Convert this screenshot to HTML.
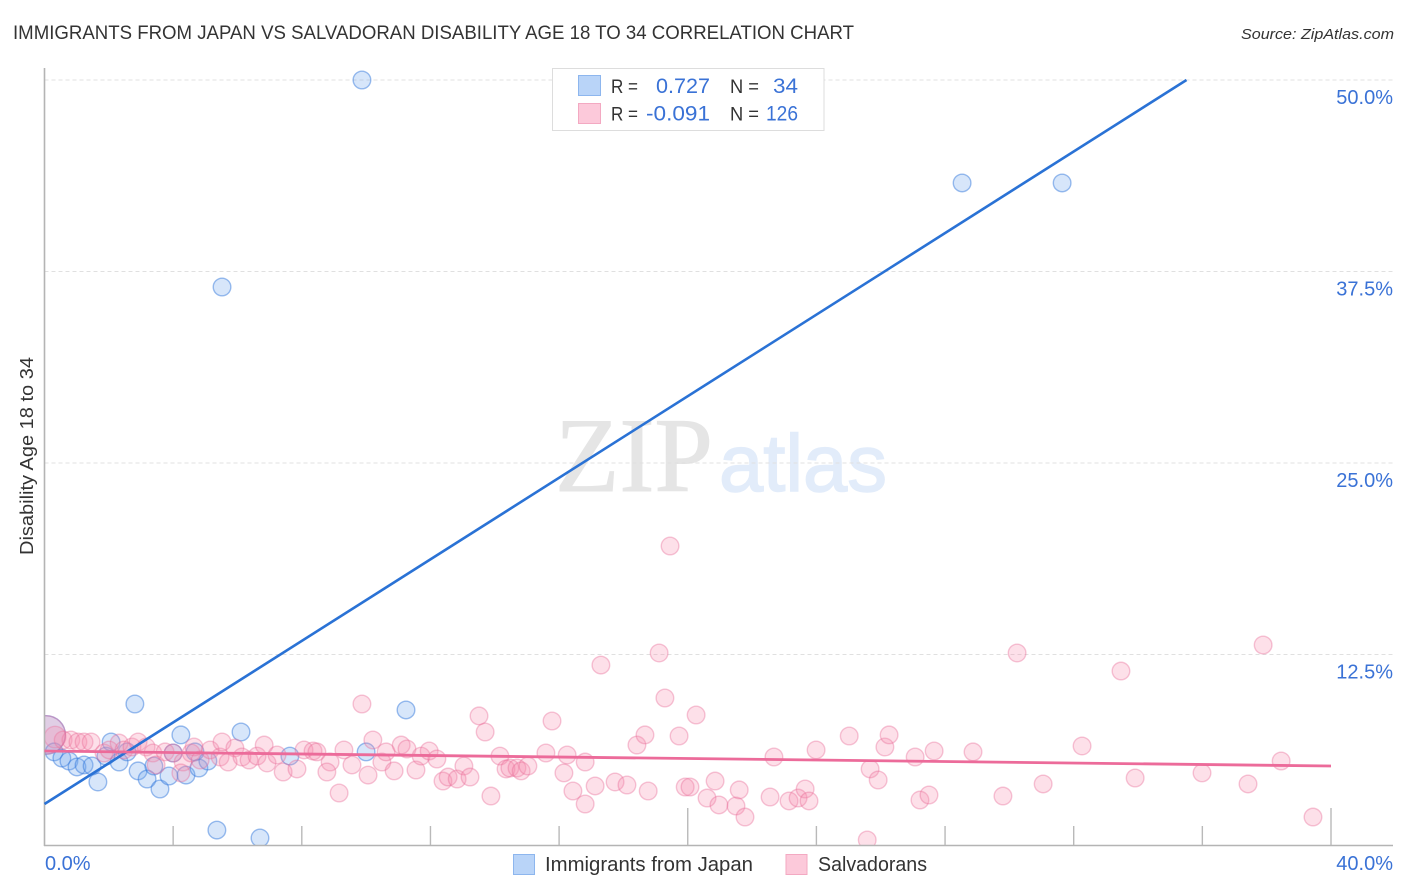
<!DOCTYPE html>
<html lang="en">
<head>
<meta charset="utf-8">
<title>Immigrants from Japan vs Salvadoran Disability Age 18 to 34 Correlation Chart</title>
<style>
  html, body { margin: 0; padding: 0; background: #fff; }
  svg { display: block; font-family: "Liberation Sans", sans-serif; }
</style>
</head>
<body>
<svg id="chart" xmlns="http://www.w3.org/2000/svg" width="1406" height="892" viewBox="0 0 1406 892">
  <defs>
    <clipPath id="plot-clip"><rect x="45" y="60" width="1349" height="785"></rect></clipPath>
  </defs>
  <rect x="0" y="0" width="1406" height="892" fill="#ffffff"></rect>

  <text x="13" y="39" font-size="19" fill="#333333" textLength="841" lengthAdjust="spacingAndGlyphs">IMMIGRANTS FROM JAPAN VS SALVADORAN DISABILITY AGE 18 TO 34 CORRELATION CHART</text>
  <text x="1241" y="39" font-size="15" font-style="italic" fill="#333333" textLength="153" lengthAdjust="spacingAndGlyphs">Source: ZipAtlas.com</text>

  <g>
    <text x="555" y="491" font-family="'Liberation Serif', serif" font-size="106" fill="#e5e5e5" stroke="#e5e5e5" stroke-width="1" textLength="158" lengthAdjust="spacingAndGlyphs">ZIP</text>
    <text x="719" y="491" font-size="81" fill="#e2ecfa" stroke="#e2ecfa" stroke-width="1.5" textLength="168" lengthAdjust="spacingAndGlyphs">atlas</text>
  </g>

  <g id="grid"></g>
  <g id="points" clip-path="url(#plot-clip)"></g>
  <rect x="0" y="690" width="44" height="80" fill="#ffffff"></rect>
  <g id="axes"></g>
  <g id="trends"></g>
  <g id="tick-labels"></g>

  <text x="33" y="456" font-size="18" fill="#333333" text-anchor="middle" textLength="198" lengthAdjust="spacingAndGlyphs" transform="rotate(-90 33 456)">Disability Age 18 to 34</text>

  <g>
    <rect x="552.5" y="68.5" width="271.5" height="62" fill="#ffffff" stroke="#dddddd" stroke-width="1"></rect>
    <rect x="578.5" y="75.5" width="22" height="20" fill="#b9d4f8" stroke="#8db6ee" stroke-width="1"></rect>
    <rect x="578.5" y="103.5" width="22" height="20" fill="#fcc9da" stroke="#f3a9c2" stroke-width="1"></rect>
    <text x="611" y="93" font-size="19.5" fill="#333333" textLength="27" lengthAdjust="spacingAndGlyphs">R =</text>
    <text x="656" y="93" font-size="21.5" fill="#3a72d6" textLength="54" lengthAdjust="spacingAndGlyphs">0.727</text>
    <text x="730" y="93" font-size="19.5" fill="#333333" textLength="29" lengthAdjust="spacingAndGlyphs">N =</text>
    <text x="773" y="93" font-size="21.5" fill="#3a72d6" textLength="25" lengthAdjust="spacingAndGlyphs">34</text>
    <text x="611" y="120.5" font-size="19.5" fill="#333333" textLength="27" lengthAdjust="spacingAndGlyphs">R =</text>
    <text x="646" y="120.5" font-size="21.5" fill="#3a72d6" textLength="64" lengthAdjust="spacingAndGlyphs">-0.091</text>
    <text x="730" y="120.5" font-size="19.5" fill="#333333" textLength="29" lengthAdjust="spacingAndGlyphs">N =</text>
    <text x="766" y="120.5" font-size="21.5" fill="#3a72d6" textLength="32" lengthAdjust="spacingAndGlyphs">126</text>
  </g>

  <g>
    <g>
      <rect x="513.5" y="854.5" width="21" height="20" fill="#b9d4f8" stroke="#8db6ee" stroke-width="1"></rect>
      <text x="545" y="871" font-size="20" fill="#333333" textLength="208" lengthAdjust="spacingAndGlyphs">Immigrants from Japan</text>
    </g>
    <g>
      <rect x="786" y="854.5" width="21" height="20" fill="#fcc9da" stroke="#f3a9c2" stroke-width="1"></rect>
      <text x="818" y="871" font-size="20" fill="#333333" textLength="109" lengthAdjust="spacingAndGlyphs">Salvadorans</text>
    </g>
  </g>
</svg>

<script>
// ---- Chart data (percent values) ----
const japanX = [9.87,28.53,31.64,5.52,2.81,11.24,6.11,4.24,0.05,0.30,0.54,0.76,1.01,1.23,1.48,1.66,1.91,2.07,2.32,2.57,2.91,3.19,3.40,3.59,3.87,4.00,4.40,4.68,4.80,5.08,5.36,6.70,7.63,10.00];
const japanY = [50.00,43.28,43.28,36.49,9.27,8.88,7.44,7.25,7.25,6.14,5.74,5.55,5.16,5.29,5.22,4.18,5.87,6.79,5.48,6.14,4.90,4.37,5.22,3.72,4.57,6.07,4.63,6.14,5.09,5.55,1.04,0.52,5.87,6.14];
const japanWeightIndexes = [8];
const japanWeightValues = [4.8];

const salvadoranX = [0.33,0.58,0.82,1.04,1.23,1.45,0.05,1.85,2.01,2.32,2.47,2.72,2.91,3.16,3.37,3.47,3.75,4.00,4.31,4.24,4.56,4.65,4.84,5.15,5.46,5.52,5.71,5.92,6.14,6.36,6.61,6.83,6.92,7.23,7.42,7.85,8.07,8.35,8.47,8.88,8.78,9.16,9.31,9.56,9.87,10.06,10.21,10.49,10.62,10.87,11.09,11.27,11.55,11.71,11.96,12.20,12.39,12.55,12.83,13.04,13.23,13.51,13.70,13.88,14.16,14.35,14.47,14.69,14.82,15.03,15.59,15.78,16.15,16.25,16.43,16.81,16.81,17.12,17.30,17.74,18.11,18.42,18.67,18.77,19.11,19.29,19.45,19.73,19.92,20.07,20.26,20.60,20.85,20.97,21.50,21.60,21.78,22.56,22.68,23.15,23.43,23.65,23.77,23.99,25.02,25.58,25.67,25.92,26.13,26.26,27.07,27.22,27.50,27.66,28.87,29.80,30.24,31.05,32.26,33.47,33.91,35.99,37.42,37.89,38.45,39.44];
const salvadoranY = [7.11,6.92,6.92,6.79,6.79,6.79,7.25,6.07,6.27,6.72,6.27,6.46,6.79,6.46,6.07,5.29,6.14,6.07,5.48,4.77,6.07,6.46,5.61,6.27,5.81,6.79,5.48,6.40,5.81,5.61,5.87,6.59,5.42,5.94,4.83,5.03,6.27,6.20,6.14,5.48,4.83,3.46,6.27,5.29,9.27,4.63,6.92,5.48,6.14,4.90,6.59,6.33,4.96,5.87,6.20,5.68,4.24,4.50,4.37,5.22,4.50,8.49,7.44,3.26,5.87,5.03,5.09,5.09,4.90,5.22,6.07,8.16,4.77,5.94,3.59,5.48,2.74,3.92,11.81,4.18,3.98,6.59,7.25,3.59,12.60,9.66,19.58,7.18,3.85,3.85,8.55,3.13,4.24,2.68,2.61,3.66,1.89,3.20,5.81,2.94,3.13,3.72,2.94,6.27,7.18,0.39,5.03,4.31,6.46,7.25,5.81,3.00,3.33,6.20,6.14,3.26,12.60,4.05,6.53,11.42,4.44,4.77,4.05,13.12,5.55,1.89];
const salvadoranWeightIndexes = [0, 6];
const salvadoranWeightValues = [1.5, 4.8];

const japanTrend = [2.74, 1.331];
const salvadoranTrend = [6.20, -0.0245];

const xTickValues = [4,8,12,16,20,24,28,32,36,40];
const xMajorTicks = [20,40];
const xTickLabels = ["0.0%","40.0%"];
const yTickValues = [12.5,25,37.5,50];
const yTickLabels = ["12.5%","25.0%","37.5%","50.0%"];
const xMax = 40;
const yMax = 50;

// ---- Axis functions ----
const plot = { left: 44.5, right: 1331, top: 80, bottom: 846, gridRight: 1393 };
function xScale(v) { return plot.left + (v / xMax) * (plot.right - plot.left); }
function yScale(v) { return plot.bottom - (v / yMax) * (plot.bottom - plot.top); }

const NS = 'http://www.w3.org/2000/svg';
function make(tag, parentId, attrs) {
  const el = document.createElementNS(NS, tag);
  Object.keys(attrs).forEach(function (k) { el.setAttribute(k, attrs[k]); });
  document.getElementById(parentId).appendChild(el);
  return el;
}
function weightOf(indexes, values, i) {
  const at = indexes.indexOf(i);
  return at >= 0 ? values[at] : 1;
}

// Gridlines and right-hand tick labels
yTickValues.forEach(function (v, i) {
  const line = make('line', 'grid', { x1: 44.5, x2: plot.gridRight, y1: yScale(v), y2: yScale(v), stroke: '#e0e0e0', 'stroke-width': 1, 'stroke-dasharray': '4 3' });
  
  
  const label = make('text', 'tick-labels', { x: plot.gridRight, y: yScale(v) + 24, 'font-size': 20, fill: '#3a72d6', 'text-anchor': 'end' });
  label.textContent = yTickLabels[i];
  
  
});

// Axes
const yAxis = make('line', 'axes', { x1: 44.5, x2: 44.5, y1: 68, y2: 846, stroke: '#b4b4b4', 'stroke-width': 1.6 });


const xAxis = make('line', 'axes', { x1: 44, x2: plot.gridRight, y1: 845.5, y2: 845.5, stroke: '#b4b4b4', 'stroke-width': 1.4 });



xTickValues.forEach(function (v) {
  const isMajor = xMajorTicks.indexOf(v) >= 0;
  const tick = make('line', 'axes', { x1: xScale(v), x2: xScale(v), y1: isMajor ? 808 : 826, y2: 845, stroke: '#b9b9b9', 'stroke-width': 1.4 });
  
  
});

const xLabelLeft = make('text', 'tick-labels', { x: 45, y: 870, 'font-size': 20, fill: '#3a72d6' });
xLabelLeft.textContent = xTickLabels[0];


const xLabelRight = make('text', 'tick-labels', { x: plot.gridRight, y: 870, 'font-size': 20, fill: '#3a72d6', 'text-anchor': 'end' });
xLabelRight.textContent = xTickLabels[1];



// Points
const baseRadius = 8.8;
japanX.forEach(function (v, i) {
  const weight = weightOf(japanWeightIndexes, japanWeightValues, i);
  const dot = make('circle', 'points', { cx: xScale(v), cy: yScale(japanY[i]), r: baseRadius * Math.sqrt(weight), fill: 'rgba(110,165,238,0.28)', stroke: 'rgba(50,120,220,0.48)', 'stroke-width': 1.4 });
  
  
});
salvadoranX.forEach(function (v, i) {
  const weight = weightOf(salvadoranWeightIndexes, salvadoranWeightValues, i);
  const dot = make('circle', 'points', { cx: xScale(v), cy: yScale(salvadoranY[i]), r: baseRadius * Math.sqrt(weight), fill: 'rgba(246,140,175,0.27)', stroke: 'rgba(232,105,150,0.38)', 'stroke-width': 1.4 });
  
  
});

// Trend lines
const japanEndX = Math.min(xMax, (yMax - japanTrend[0]) / japanTrend[1]);
const japanLine = make('line', 'trends', { x1: xScale(0), y1: yScale(japanTrend[0]), x2: xScale(japanEndX), y2: yScale(japanTrend[0] + japanTrend[1] * japanEndX), stroke: '#2a72d5', 'stroke-width': 2.6 });


const salvadoranLine = make('line', 'trends', { x1: xScale(0), y1: yScale(salvadoranTrend[0]), x2: xScale(xMax), y2: yScale(salvadoranTrend[0] + salvadoranTrend[1] * xMax), stroke: '#ec6b9a', 'stroke-width': 2.8 });


</script>
</body>
</html>
